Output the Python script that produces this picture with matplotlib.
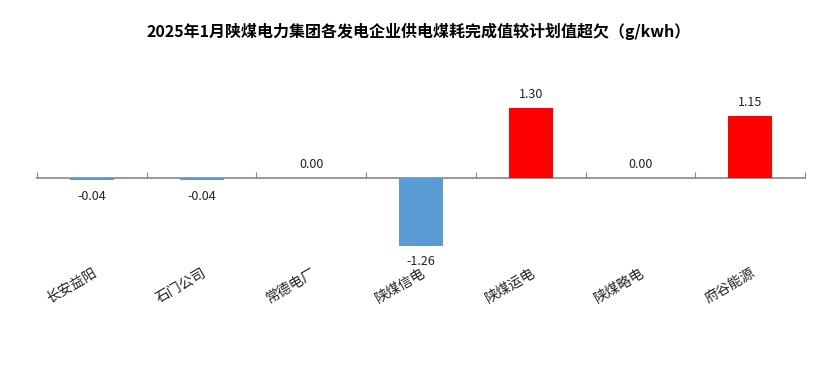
import matplotlib.pyplot as plt
import matplotlib.transforms as mtransforms
import numpy as np

plt.rcParams['font.family'] = ['Noto Sans CJK SC', 'DejaVu Sans']

categories = ['长安益阳', '石门公司', '常德电厂', '陕煤信电', '陕煤运电', '陕煤略电', '府谷能源']
values = [-0.04, -0.04, 0.00, -1.26, 1.30, 0.00, 1.15]
title = '2025年1月陕煤电力集团各发电企业供电煤耗完成值较计划值超欠（g/kwh）'

colors = ['#FF0000' if v > 0 else '#5B9BD5' for v in values]

fig = plt.figure(figsize=(8.37, 3.89), dpi=100)
ax = fig.add_axes([37 / 837, 1 - 264 / 389, 768 / 837, 172 / 389])

x = np.arange(len(categories))
ax.bar(x, values, width=0.4, color=colors, zorder=3)
ax.set_xlim(-0.5, len(categories) - 0.5)
ax.set_ylim(-1.6, 1.6)

# value labels
for xi, v in zip(x, values):
    if v < 0:
        ax.annotate(f'{v:.2f}', (xi, v), xytext=(0, -7), textcoords='offset points',
                    ha='center', va='top', fontsize=9, color='#222222')
    else:
        ax.annotate(f'{v:.2f}', (xi, v), xytext=(0, 5), textcoords='offset points',
                    ha='center', va='bottom', fontsize=9, color='#222222')

# axis line at zero with ticks at category boundaries
for s in ['top', 'right', 'left']:
    ax.spines[s].set_visible(False)
ax.spines['bottom'].set_position(('data', 0))
ax.spines['bottom'].set_color('#868686')
ax.spines['bottom'].set_linewidth(1.2)
ax.set_yticks([])
ax.set_xticks(np.arange(-0.5, len(categories)))
ax.tick_params(axis='x', direction='in', length=4, color='#868686', labelbottom=False)

# category labels at the bottom
trans = mtransforms.blended_transform_factory(ax.transData, ax.transAxes)
for xi, c in zip(x, categories):
    ax.text(xi, -0.01, c, transform=trans, rotation=30, rotation_mode='anchor',
            ha='right', va='top', fontsize=10, color='#222222')

fig.text(0.5, 1 - 31 / 389, title, ha='center', va='center', fontsize=11.5,
         fontweight='bold', color='#000000')

fig.savefig('out.png', dpi=100)
